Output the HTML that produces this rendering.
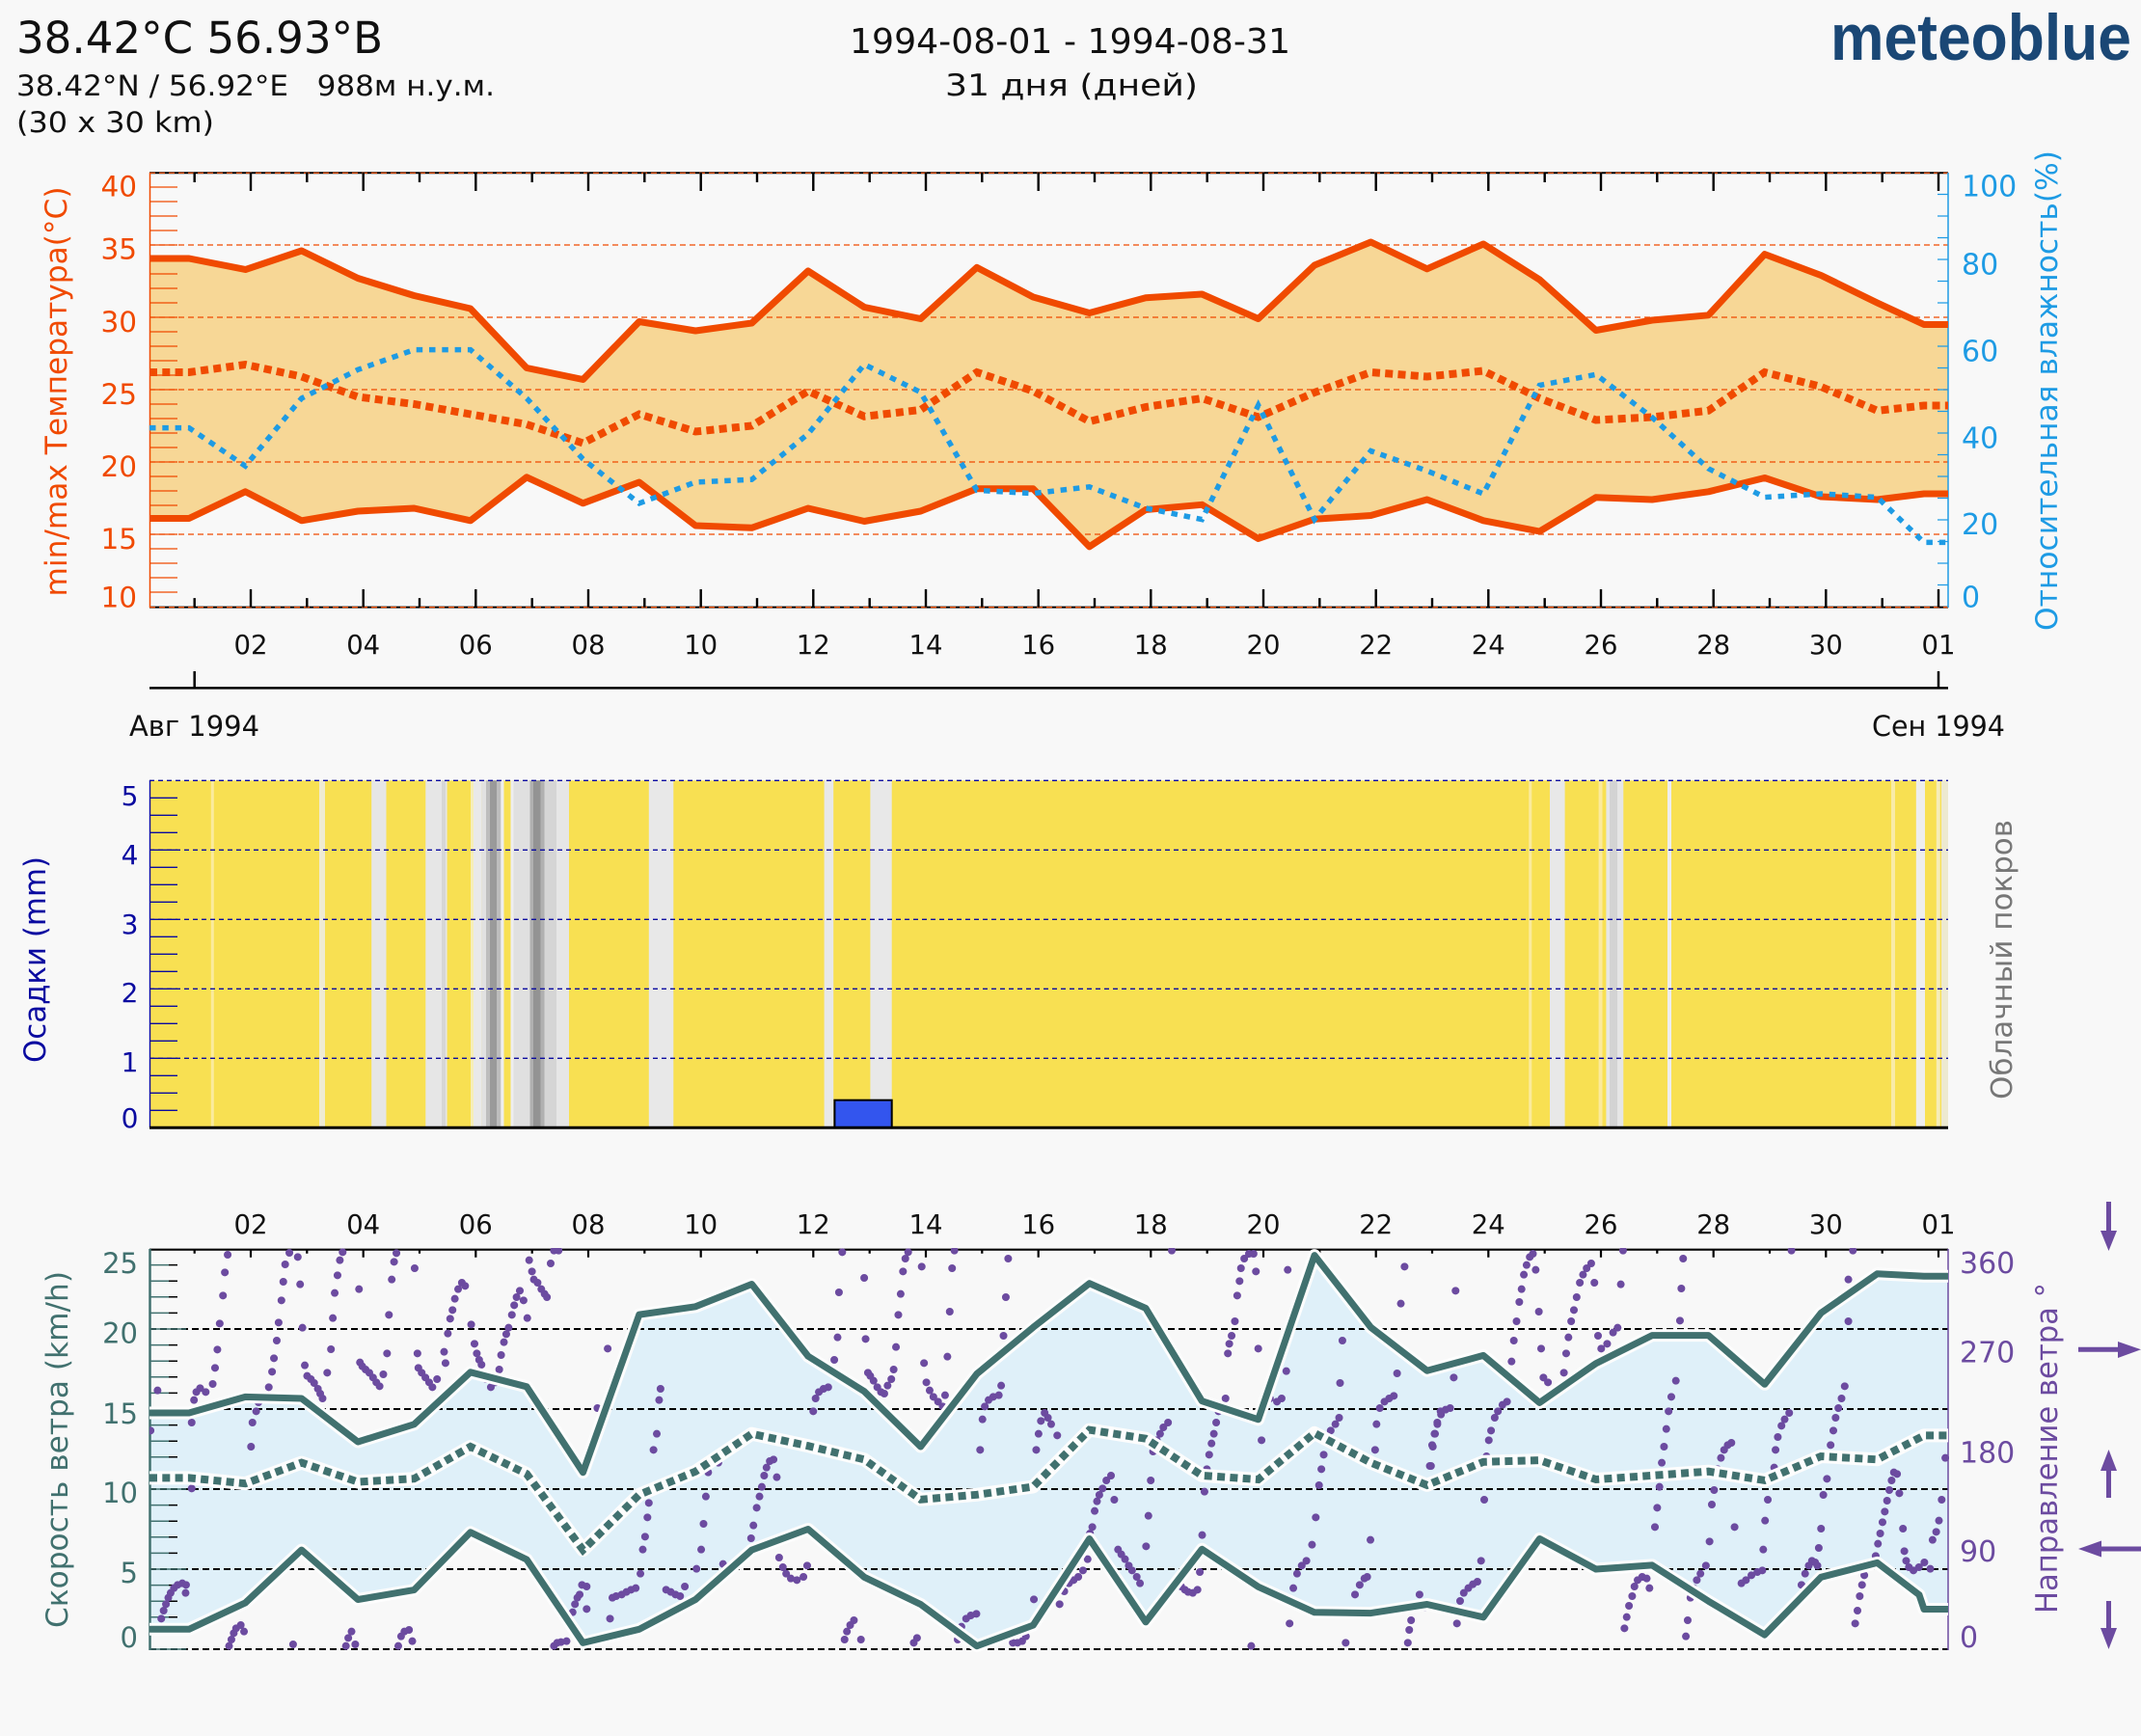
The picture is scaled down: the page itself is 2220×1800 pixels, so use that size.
<!DOCTYPE html>
<html><head><meta charset="utf-8">
<style>
html,body{margin:0;padding:0;background:#f8f8f8}
svg{display:block}
text{font-family:"DejaVu Sans","Liberation Sans",sans-serif}
</style></head>
<body>
<svg width="2220" height="1800" viewBox="0 0 2220 1800" xmlns="http://www.w3.org/2000/svg">
<rect x="0" y="0" width="2220" height="1800" fill="#f8f8f8"/>

<!-- HEADER -->
<text x="17" y="55" font-size="45" textLength="380" lengthAdjust="spacingAndGlyphs" fill="#111">38.42°C 56.93°B</text>
<text x="17" y="99" font-size="29" textLength="496" lengthAdjust="spacingAndGlyphs" fill="#111" style="white-space:pre">38.42°N / 56.92°E   988м н.у.м.</text>
<text x="17" y="137" font-size="29" textLength="205" lengthAdjust="spacingAndGlyphs" fill="#111">(30 x 30 km)</text>
<text x="881" y="55" font-size="36" textLength="457" lengthAdjust="spacingAndGlyphs" fill="#111">1994-08-01 - 1994-08-31</text>
<text x="980" y="99" font-size="31" textLength="262" lengthAdjust="spacingAndGlyphs" fill="#111">31 дня (дней)</text>
<text x="1898" y="62" font-size="68" font-weight="bold" style="font-family:'Liberation Sans',sans-serif" textLength="312" lengthAdjust="spacingAndGlyphs" fill="#1a4775">meteoblue</text>

<!-- ================= TOP CHART ================= -->
<polygon fill="#f7d796" points="155,268 196,268 254.4,279.5 312.7,260 371.1,288.5 429.4,306.5 487.8,320 546.1,381.5 604.5,393.5 662.8,333.5 721.2,343 779.5,335 837.9,281 896.2,318.5 954.6,330.5 1012.9,277.3 1071.3,308 1129.6,324.5 1188,308.8 1246.3,305 1304.7,330.5 1363,275 1421.4,251 1479.7,278.8 1538.1,253 1596.4,290 1654.8,342.5 1713.1,332 1771.5,326.8 1829.8,263.6 1888.2,285.5 1946.5,314 1995,336.5 2020,336.5 2020,512 1995,512 1946.5,518 1888.2,515 1829.8,495.5 1771.5,509.8 1713.1,518 1654.8,515.8 1596.4,551 1538.1,539.8 1479.7,518 1421.4,534.5 1363,538.3 1304.7,558.5 1246.3,523.3 1188,528.5 1129.6,566.8 1071.3,506.8 1012.9,506.8 954.6,530 896.2,540.5 837.9,527 779.5,547.3 721.2,545 662.8,500 604.5,521.8 546.1,494.8 487.8,539.8 429.4,527 371.1,530 312.7,539.8 254.4,509.8 196,537.5 155,537.5"/>
<!-- grid -->
<path d="M155 254H2020M155 329H2020M155 404H2020M155 479H2020M155 554H2020" stroke="#f04a00" stroke-width="1.3" stroke-dasharray="6 4" fill="none"/>
<!-- borders -->
<path d="M155 179.3H2020M155 629.6H2020" stroke="#000" stroke-width="2" fill="none"/>
<path d="M155 179.3H2020M155 629.6H2020" stroke="#f04a00" stroke-width="1.2" stroke-dasharray="6 4" fill="none"/>
<path d="M155.5 179V630" stroke="#f04a00" stroke-width="1.5"/>
<path d="M2020 179V630" stroke="#1e9be4" stroke-width="1.5"/>
<!-- left orange ticks -->
<path stroke="#f04a00" stroke-width="1.2" d="M155 194h29M155 209h29M155 224h29M155 239h29M155 254h29M155 269h29M155 284h29M155 299h29M155 314h29M155 329h29M155 344h29M155 359h29M155 374h29M155 389h29M155 404h29M155 419h29M155 434h29M155 449h29M155 464h29M155 479h29M155 494h29M155 509h29M155 524h29M155 539h29M155 554h29M155 569h29M155 584h29M155 599h29M155 614h29"/>
<!-- right blue ticks -->
<path stroke="#1e9be4" stroke-width="1.2" d="M2009 606.5h11M2009 584h11M2009 561.5h11M2009 539h11M2009 516.5h11M2009 494h11M2009 471.5h11M2009 449h11M2009 426.5h11M2009 404h11M2009 381.5h11M2009 359h11M2009 336.5h11M2009 314h11M2009 291.5h11M2009 269h11M2009 246.5h11M2009 224h11M2009 201.5h11"/>
<!-- top/bottom time ticks -->
<path stroke="#000" stroke-width="2.4" d="M260 179v19M376.7 179v19M493.3 179v19M610 179v19M726.7 179v19M843.3 179v19M960 179v19M1076.7 179v19M1193.3 179v19M1310 179v19M1426.7 179v19M1543.3 179v19M1660 179v19M1776.7 179v19M1893.3 179v19M2010 179v19
M201.7 179v10M318.3 179v10M435 179v10M551.7 179v10M668.3 179v10M785 179v10M901.7 179v10M1018.3 179v10M1135 179v10M1251.7 179v10M1368.3 179v10M1485 179v10M1601.7 179v10M1718.3 179v10M1835 179v10M1951.7 179v10
M260 629.6v-18.6M376.7 629.6v-18.6M493.3 629.6v-18.6M610 629.6v-18.6M726.7 629.6v-18.6M843.3 629.6v-18.6M960 629.6v-18.6M1076.7 629.6v-18.6M1193.3 629.6v-18.6M1310 629.6v-18.6M1426.7 629.6v-18.6M1543.3 629.6v-18.6M1660 629.6v-18.6M1776.7 629.6v-18.6M1893.3 629.6v-18.6M2010 629.6v-18.6
M201.7 629.6v-9.5M318.3 629.6v-9.5M435 629.6v-9.5M551.7 629.6v-9.5M668.3 629.6v-9.5M785 629.6v-9.5M901.7 629.6v-9.5M1018.3 629.6v-9.5M1135 629.6v-9.5M1251.7 629.6v-9.5M1368.3 629.6v-9.5M1485 629.6v-9.5M1601.7 629.6v-9.5M1718.3 629.6v-9.5M1835 629.6v-9.5M1951.7 629.6v-9.5"/>
<!-- mean temp dotted -->
<polyline fill="none" stroke="#f04a00" stroke-width="8" stroke-dasharray="8 5.3" points="155,386 196,386 254.4,378 312.7,390.5 371.1,411.5 429.4,419 487.8,429.5 546.1,440 604.5,459.5 662.8,429.5 721.2,447.5 779.5,441.5 837.9,405.5 896.2,431.8 954.6,425 1012.9,386 1071.3,405.5 1129.6,437 1188,422 1246.3,413 1304.7,432.5 1363,407 1421.4,386 1479.7,390.5 1538.1,384.5 1596.4,413 1654.8,435.5 1713.1,432.5 1771.5,425.8 1829.8,386 1888.2,401 1946.5,425.8 1995,420.5 2020,420.5"/>
<!-- max/min temp -->
<polyline fill="none" stroke="#f04a00" stroke-width="7" stroke-linejoin="round" points="155,268 196,268 254.4,279.5 312.7,260 371.1,288.5 429.4,306.5 487.8,320 546.1,381.5 604.5,393.5 662.8,333.5 721.2,343 779.5,335 837.9,281 896.2,318.5 954.6,330.5 1012.9,277.3 1071.3,308 1129.6,324.5 1188,308.8 1246.3,305 1304.7,330.5 1363,275 1421.4,251 1479.7,278.8 1538.1,253 1596.4,290 1654.8,342.5 1713.1,332 1771.5,326.8 1829.8,263.6 1888.2,285.5 1946.5,314 1995,336.5 2020,336.5"/>
<polyline fill="none" stroke="#f04a00" stroke-width="7" stroke-linejoin="round" points="155,537.5 196,537.5 254.4,509.8 312.7,539.8 371.1,530 429.4,527 487.8,539.8 546.1,494.8 604.5,521.8 662.8,500 721.2,545 779.5,547.3 837.9,527 896.2,540.5 954.6,530 1012.9,506.8 1071.3,506.8 1129.6,566.8 1188,528.5 1246.3,523.3 1304.7,558.5 1363,538.3 1421.4,534.5 1479.7,518 1538.1,539.8 1596.4,551 1654.8,515.8 1713.1,518 1771.5,509.8 1829.8,495.5 1888.2,515 1946.5,518 1995,512 2020,512"/>
<!-- humidity -->
<polyline fill="none" stroke="#1e9be4" stroke-width="5.5" stroke-dasharray="6.5 6.8" points="155,443.6 196,443.6 254.4,483.2 312.7,413 371.1,383.3 429.4,362.6 487.8,362.6 546.1,413 604.5,476 662.8,521.9 721.2,499.9 779.5,497.2 837.9,449.9 896.2,377.9 954.6,406.7 1012.9,508.4 1071.3,511.6 1129.6,504.8 1188,526.9 1246.3,538.6 1304.7,420.2 1363,538.6 1421.4,467.5 1479.7,488.2 1538.1,512 1596.4,399.5 1654.8,388.3 1713.1,432.8 1771.5,485.9 1829.8,515.6 1888.2,512 1946.5,515.6 1995,562.4 2020,562.4"/>

<!-- top chart labels -->
<g font-size="29.5" fill="#f04a00" text-anchor="end">
<text x="142" y="203.5">40</text><text x="142" y="268.7">35</text><text x="142" y="343.8">30</text><text x="142" y="419">25</text><text x="142" y="494">20</text><text x="142" y="569">15</text><text x="142" y="629.6">10</text>
</g>
<g font-size="30" fill="#1e9be4">
<text x="2034" y="203.5">100</text><text x="2034" y="284.5">80</text><text x="2034" y="374.6">60</text><text x="2034" y="464.3">40</text><text x="2034" y="554">20</text><text x="2034" y="629.6">0</text>
</g>
<text transform="translate(69,618.5) rotate(-90)" font-size="31" fill="#f04a00" textLength="425" lengthAdjust="spacingAndGlyphs">min/max Температура(°C)</text>
<text transform="translate(2133,654) rotate(-90)" font-size="31" fill="#1e9be4" textLength="498" lengthAdjust="spacingAndGlyphs">Относительная влажность(%)</text>
<g font-size="27.5" fill="#111" text-anchor="middle">
<text x="260" y="677.8">02</text><text x="376.7" y="677.8">04</text><text x="493.3" y="677.8">06</text><text x="610" y="677.8">08</text><text x="726.7" y="677.8">10</text><text x="843.3" y="677.8">12</text><text x="960" y="677.8">14</text><text x="1076.7" y="677.8">16</text><text x="1193.3" y="677.8">18</text><text x="1310" y="677.8">20</text><text x="1426.7" y="677.8">22</text><text x="1543.3" y="677.8">24</text><text x="1660" y="677.8">26</text><text x="1776.7" y="677.8">28</text><text x="1893.3" y="677.8">30</text><text x="2010" y="677.8">01</text>
</g>
<path d="M155 713.4H2020M201.7 696v17.4M2010 696v17.4" stroke="#000" stroke-width="2.5" fill="none"/>
<text x="134" y="762.8" font-size="29.5" fill="#111" textLength="135" lengthAdjust="spacingAndGlyphs">Авг 1994</text>
<text x="1941" y="762.8" font-size="29.5" fill="#111" textLength="138" lengthAdjust="spacingAndGlyphs">Сен 1994</text>

<!-- ================= MIDDLE CHART ================= -->
<rect x="155" y="809.3" width="1865" height="360" fill="#f8e052"/>
<g>
<rect x="218.8" y="809.3" width="3" height="360" fill="#fbeb9e"/>
<rect x="331" y="809.3" width="6" height="360" fill="#efebd2"/>
<rect x="385.2" y="809.3" width="15.3" height="360" fill="#e6e6e6"/>
<rect x="441.3" y="809.3" width="22.3" height="360" fill="#e6e6e6"/>
<rect x="458" y="809.3" width="4" height="360" fill="#d6d6d6"/>
<rect x="488" y="809.3" width="3" height="360" fill="#f6eeb8"/>
<rect x="491" y="809.3" width="8.4" height="360" fill="#e9e9e9"/>
<rect x="499.4" y="809.3" width="20.6" height="360" fill="#e1e1e1"/>
<rect x="504" y="809.3" width="15" height="360" fill="#bdbdbd"/>
<rect x="508" y="809.3" width="7" height="360" fill="#9a9a9a"/>
<rect x="520" y="809.3" width="2.5" height="360" fill="#eeeeee"/>
<rect x="529.5" y="809.3" width="3" height="360" fill="#eeeeee"/>
<rect x="532.5" y="809.3" width="57.5" height="360" fill="#e0e0e0"/>
<rect x="549.5" y="809.3" width="15" height="360" fill="#b0b0b0"/>
<rect x="553" y="809.3" width="7.5" height="360" fill="#939393"/>
<rect x="564.5" y="809.3" width="12.5" height="360" fill="#d5d5d5"/>
<rect x="577" y="809.3" width="13" height="360" fill="#e6e6e6"/>
<rect x="672.8" y="809.3" width="25.5" height="360" fill="#e8e8e8"/>
<rect x="854.6" y="809.3" width="9.6" height="360" fill="#e8e8e8"/>
<rect x="902.4" y="809.3" width="22.3" height="360" fill="#e8e8e8"/>
<rect x="1585.2" y="809.3" width="3.1" height="360" fill="#fbea9c"/>
<rect x="1607" y="809.3" width="15.6" height="360" fill="#e8e8e8"/>
<rect x="1657.6" y="809.3" width="3.9" height="360" fill="#fbea9c"/>
<rect x="1665.4" y="809.3" width="17.9" height="360" fill="#e6e6e6"/>
<rect x="1669" y="809.3" width="8" height="360" fill="#d3d3d3"/>
<rect x="1729" y="809.3" width="4" height="360" fill="#eeeeee"/>
<rect x="1961" y="809.3" width="4" height="360" fill="#f9eba8"/>
<rect x="1986.8" y="809.3" width="9.2" height="360" fill="#eeeeee"/>
<rect x="2007.8" y="809.3" width="3.9" height="360" fill="#f6edb8"/>
<rect x="2013" y="809.3" width="7" height="360" fill="#ede9d0"/>
</g>
<path d="M155 809.3H2020M155 881.3H2020M155 953.3H2020M155 1025.3H2020M155 1097.3H2020" stroke="#0a0aa0" stroke-width="1.4" stroke-dasharray="5 4" fill="none"/>
<path d="M155.5 809V1169" stroke="#0a0aa0" stroke-width="1.4"/>
<path stroke="#0a0aa0" stroke-width="1.3" d="M155 1151.3h29M155 1133.3h29M155 1115.3h29M155 1097.3h29M155 1079.3h29M155 1061.3h29M155 1043.3h29M155 1025.3h29M155 1007.3h29M155 989.3h29M155 971.3h29M155 953.3h29M155 935.3h29M155 917.3h29M155 899.3h29M155 881.3h29M155 863.3h29M155 845.3h29M155 827.3h29"/>
<rect x="865.4" y="1140.7" width="59.3" height="28.6" fill="#3355ee" stroke="#000" stroke-width="2"/>
<path d="M155 1169.3H2020" stroke="#000" stroke-width="3"/>
<g font-size="28" fill="#0a0aa0" text-anchor="end">
<text x="143.5" y="835">5</text><text x="143.5" y="896">4</text><text x="143.5" y="968">3</text><text x="143.5" y="1039">2</text><text x="143.5" y="1111">1</text><text x="143.5" y="1169">0</text>
</g>
<text transform="translate(47,1102) rotate(-90)" font-size="31" fill="#0a0aa0" textLength="214" lengthAdjust="spacingAndGlyphs">Осадки (mm)</text>
<text transform="translate(2086,1140) rotate(-90)" font-size="30" fill="#777" textLength="290" lengthAdjust="spacingAndGlyphs">Облачный покров</text>

<!-- ================= BOTTOM CHART ================= -->
<defs><clipPath id="cb"><rect x="155" y="1294" width="1866" height="418"/></clipPath></defs>
<polygon fill="#dff0f9" points="155,1465 196,1465 254.4,1448.4 312.7,1450 371.1,1495 429.4,1476.8 487.8,1422.8 546.1,1437.8 604.5,1526.7 662.8,1363.1 721.2,1354.8 779.5,1331.5 837.9,1406.2 896.2,1442.7 954.6,1500 1012.9,1424.5 1071.3,1376.3 1129.6,1330.7 1188,1356.4 1246.3,1452.7 1304.7,1471.8 1363,1301.6 1421.4,1376.3 1479.7,1421.2 1538.1,1405.4 1596.4,1454.4 1654.8,1413.7 1713.1,1384.6 1771.5,1384.6 1829.8,1435.3 1888.2,1361.4 1946.5,1320.7 1995,1323.2 2020,1323.2 2020,1668.5 1995,1668.5 1990,1653.6 1946.5,1620.4 1888.2,1635.3 1829.8,1695.1 1771.5,1660.2 1713.1,1622.9 1654.8,1627 1596.4,1595.5 1538.1,1676.8 1479.7,1663.5 1421.4,1672.6 1363,1671.8 1304.7,1645.3 1246.3,1606.3 1188,1681.8 1129.6,1595.5 1071.3,1685.1 1012.9,1706.7 954.6,1663.5 896.2,1635.3 837.9,1585.5 779.5,1607.1 721.2,1658.5 662.8,1689.3 604.5,1703.4 546.1,1617 487.8,1588.8 429.4,1648.6 371.1,1658.5 312.7,1607.1 254.4,1661.9 196,1689.3 155,1689.3"/>
<path d="M155 1378H2020M155 1461H2020M155 1544H2020M155 1627H2020M155 1710H2020" stroke="#000" stroke-width="2" stroke-dasharray="7 4" fill="none"/>
<path d="M155 1295.7H2020" stroke="#000" stroke-width="2.2"/>
<path stroke="#000" stroke-width="2.2" d="M260 1295.7v8M376.7 1295.7v8M493.3 1295.7v8M610 1295.7v8M726.7 1295.7v8M843.3 1295.7v8M960 1295.7v8M1076.7 1295.7v8M1193.3 1295.7v8M1310 1295.7v8M1426.7 1295.7v8M1543.3 1295.7v8M1660 1295.7v8M1776.7 1295.7v8M1893.3 1295.7v8M2010 1295.7v8
M201.7 1295.7v4M318.3 1295.7v4M435 1295.7v4M551.7 1295.7v4M668.3 1295.7v4M785 1295.7v4M901.7 1295.7v4M1018.3 1295.7v4M1135 1295.7v4M1251.7 1295.7v4M1368.3 1295.7v4M1485 1295.7v4M1601.7 1295.7v4M1718.3 1295.7v4M1835 1295.7v4M1951.7 1295.7v4"/>
<path d="M155.5 1295V1711" stroke="#41716f" stroke-width="2.5"/>
<path d="M2020 1295V1711" stroke="#6c4ba0" stroke-width="1.5"/>
<!-- left ticks -->
<path stroke="#000" stroke-width="1.5" d="M175 1693.4h9M175 1676.8h9M175 1660.2h9M175 1643.6h9M175 1610.4h9M175 1593.8h9M175 1577.2h9M175 1560.6h9M175 1527.4h9M175 1510.8h9M175 1494.2h9M175 1477.6h9M175 1444.4h9M175 1427.8h9M175 1411.2h9M175 1394.6h9M175 1361.4h9M175 1344.8h9M175 1328.2h9M175 1311.6h9"/>
<path stroke="#41716f" stroke-width="1.5" d="M155 1693.4h20M155 1676.8h20M155 1660.2h20M155 1643.6h20M155 1610.4h20M155 1593.8h20M155 1577.2h20M155 1560.6h20M155 1527.4h20M155 1510.8h20M155 1494.2h20M155 1477.6h20M155 1444.4h20M155 1427.8h20M155 1411.2h20M155 1394.6h20M155 1361.4h20M155 1344.8h20M155 1328.2h20M155 1311.6h20M155 1627h38M155 1544h38M155 1461h38M155 1378h38M155 1710h38"/>

<!-- wind direction dots -->
<g clip-path="url(#cb)" fill="none" stroke="#6c4ba0" stroke-width="8" stroke-linecap="round">
<path transform="translate(0,1230) scale(0.48469,0.33333)" vector-effect="non-scaling-stroke" d="M322 760h.1M337 635h.1M345 1345h.1M350 1320h.1M355 1300h.1M360 1280h.1M365 1265h.1M372 1250h.1M380 1240h.1M390 1235h.1M398 1240h.1M397 1265h.1M410 940h.1M410 735h.1M415 665h.1M420 640h.1M428 628h.1M440 640h.1M455 615h.1M460 565h.1M465 508h.1M470 427h.1M477 340h.1M481 268h.1M487 213h.1M490 1430h.1M495 1410h.1M500 1390h.1M505 1375h.1M515 1365h.1M522 1385h.1M537 810h.1M540 735h.1M548 700h.1M553 672h.1M575 625h.1M582 577h.1M586 535h.1M592 480h.1M596 424h.1M602 355h.1M606 297h.1M610 243h.1M619 207h.1M627 1425h.1M637 220h.1M642 305h.1M647 440h.1M652 557h.1M657 590h.1M665 600h.1M672 612h.1M680 630h.1M685 645h.1M690 660h.1M700 580h.1M708 507h.1M712 410h.1M716 332h.1M722 277h.1M727 230h.1M733 205h.1M740 1430h.1M745 1405h.1M752 1385h.1M760 1425h.1M768 320h.1M770 548h.1M775 560h.1M782 570h.1M790 580h.1M798 595h.1M805 610h.1M812 622h.1M820 585h.1M828 520h.1M832 400h.1M838 290h.1M843 235h.1M848 208h.1M852 1430h.1M858 1400h.1M865 1385h.1M875 1380h.1M882 1415h.1M887 255h.1M893 520h.1M895 565h.1M902 580h.1M910 595h.1M918 610h.1M925 625h.1M935 600h.1M950 515h.1M953 550h.1M958 458h.1M963 412h.1M968 385h.1M973 350h.1M980 320h.1M988 300h.1M995 310h.1M1008 430h.1M1015 490h.1M1020 520h.1M1025 540h.1M1030 555h.1M1040 600h.1M1050 625h.1M1060 610h.1M1068 570h.1M1072 525h.1M1078 485h.1M1083 460h.1M1088 440h.1M1095 400h.1M1100 370h.1M1105 345h.1M1112 325h.1M1120 355h.1M1128 410h.1M1132 230h.1M1138 265h.1M1142 290h.1M1150 300h.1M1158 320h.1M1165 335h.1M1170 345h.1M1178 240h.1M1185 200h.1M1195 200h.1M1185 1430h.1M1192 1420h.1M1200 1418h.1M1212 1415h.1M1225 1325h.1M1230 1300h.1M1235 1280h.1M1240 1270h.1M1245 1240h.1M1255 1245h.1M1255 1315h.1M1278 690h.1M1300 505h.1M1305 1345h.1M1310 1280h.1M1318 1275h.1M1330 1270h.1M1340 1262h.1M1350 1255h.1M1360 1250h.1M1370 1205h.1M1375 1130h.1M1380 1090h.1M1385 1030h.1M1388 985h.1M1398 820h.1M1405 770h.1M1410 665h.1M1413 630h.1M1425 1255h.1M1435 1262h.1M1445 1270h.1M1455 1275h.1M1465 1245h.1M1490 1190h.1M1500 1130h.1M1505 1050h.1M1510 965h.1M1515 890h.1M1530 855h.1M1548 830h.1"/>
<path transform="translate(740,1230) scale(0.48469,0.33333)" vector-effect="non-scaling-stroke" d="M10 860h.1M20 1175h.1M80 1095h.1M85 1055h.1M92 1000h.1M98 965h.1M103 935h.1M108 900h.1M113 875h.1M120 855h.1M128 850h.1M135 905h.1M140 1155h.1M148 1185h.1M155 1205h.1M165 1220h.1M178 1225h.1M192 1215h.1M200 1180h.1M213 700h.1M218 660h.1M225 640h.1M235 630h.1M245 625h.1M258 540h.1M265 470h.1M268 330h.1M275 205h.1M280 1410h.1M285 1385h.1M292 1365h.1M300 1350h.1M315 1410h.1M322 285h.1M325 475h.1M330 580h.1M335 590h.1M342 605h.1M350 625h.1M358 640h.1M365 645h.1M372 620h.1M380 600h.1M385 570h.1M390 500h.1M395 400h.1M400 335h.1M405 265h.1M410 225h.1M416 205h.1M428 1420h.1M435 1405h.1M445 250h.1M450 550h.1M455 610h.1M462 635h.1M470 655h.1M480 670h.1M490 685h.1M495 650h.1M500 530h.1M505 390h.1M510 255h.1M515 200h.1M522 1410h.1M530 1370h.1M540 1345h.1M550 1335h.1M562 1330h.1M570 820h.1M575 725h.1M580 685h.1M588 665h.1M598 655h.1M610 650h.1M615 620h.1M620 465h.1M625 345h.1M630 225h.1M640 1420h.1M650 1420h.1M660 1415h.1M668 1400h.1M685 1285h.1M690 820h.1M695 770h.1M700 730h.1M708 705h.1M715 720h.1M722 740h.1M735 775h.1M740 1300h.1M750 1260h.1M760 1235h.1M770 1225h.1M780 1215h.1M790 1195h.1M800 1160h.1M805 1080h.1M810 1060h.1M815 1010h.1M820 980h.1M825 960h.1M832 940h.1M840 915h.1M850 900h.1M857 975h.1M865 1130h.1M872 1145h.1M880 1160h.1M888 1180h.1M895 1195h.1M905 1215h.1M912 1235h.1M925 1120h.1M930 1025h.1M935 915h.1M940 825h.1M948 790h.1M955 770h.1M962 750h.1M972 735h.1M980 200h.1M1000 1245h.1M1008 1255h.1M1015 1262h.1M1025 1265h.1M1035 1255h.1M1040 1200h.1M1045 1085h.1M1050 950h.1M1055 880h.1M1060 835h.1M1065 800h.1M1070 770h.1M1075 735h.1M1080 700h.1M1095 660h.1M1100 520h.1M1103 490h.1M1108 465h.1M1115 420h.1M1120 340h.1M1125 295h.1M1128 255h.1M1135 225h.1M1145 210h.1M1155 210h.1M1160 265h.1M1165 505h.1M1172 790h.1M1150 1430h.1M1190 660h.1M1205 670h.1M1215 660h.1M1225 575h.1M1228 260h.1M1232 1360h.1M1240 1250h.1M1248 1205h.1M1258 1180h.1M1268 1165h.1M1280 1115h.1M1288 1030h.1M1295 930h.1M1300 880h.1M1305 835h.1M1310 785h.1M1320 760h.1M1330 740h.1M1338 720h.1M1340 612h.1M1345 480h.1M1352 1420h.1M1362 1320h.1M1372 1270h.1M1382 1240h.1M1392 1220h.1M1398 1215h.1M1405 1100h.1M1415 820h.1M1418 740h.1M1425 690h.1M1435 670h.1M1445 660h.1M1455 652h.1M1462 582h.1M1470 365h.1M1478 250h.1M1485 1420h.1M1488 1380h.1M1492 1350h.1M1500 1310h.1M1510 1270h.1M1520 1310h.1M1532 870h.1M1537 805h.1M1542 770h.1M1548 735h.1M1555 700h.1"/>
<path transform="translate(1480,1230) scale(0.47194,0.33333)" vector-effect="non-scaling-stroke" d="M8 870h.1M12 810h.1M17 770h.1M22 740h.1M30 710h.1M40 695h.1M50 690h.1M58 595h.1M62 325h.1M65 1360h.1M72 1290h.1M80 1265h.1M90 1250h.1M100 1238h.1M110 1230h.1M118 1165h.1M125 975h.1M130 840h.1M135 790h.1M140 760h.1M148 720h.1M155 700h.1M165 680h.1M175 670h.1M185 545h.1M190 480h.1M196 420h.1M202 360h.1M207 320h.1M212 275h.1M218 245h.1M225 220h.1M232 210h.1M238 260h.1M245 390h.1M250 505h.1M255 595h.1M265 610h.1M300 580h.1M305 520h.1M310 470h.1M316 420h.1M322 385h.1M328 345h.1M335 300h.1M342 275h.1M350 255h.1M360 240h.1M367 300h.1M375 465h.1M382 505h.1M395 490h.1M408 455h.1M418 440h.1M425 305h.1M430 200h.1M433 1375h.1M438 1340h.1M443 1305h.1M450 1275h.1M455 1245h.1M462 1225h.1M472 1215h.1M482 1220h.1M488 1250h.1M500 1060h.1M505 1000h.1M510 935h.1M515 860h.1M520 810h.1M525 755h.1M530 700h.1M536 655h.1M546 605h.1M555 418h.1M558 318h.1M562 225h.1M568 1400h.1M572 1350h.1M578 1280h.1M585 1250h.1M592 1225h.1M600 1205h.1M612 1180h.1M620 1105h.1M625 990h.1M630 945h.1M638 880h.1M645 845h.1M652 820h.1M660 805h.1M668 798h.1M675 1060h.1M690 1235h.1M700 1225h.1M712 1210h.1M725 1200h.1M736 1195h.1M738 1130h.1M742 1040h.1M748 975h.1M755 915h.1M762 875h.1M765 820h.1M770 780h.1M778 745h.1M785 725h.1M795 705h.1M800 200h.1M815 1280h.1M822 1240h.1M830 1205h.1M838 1180h.1M845 1165h.1M852 1170h.1M857 1180h.1M860 1125h.1M865 1065h.1M870 960h.1M878 910h.1M886 805h.1M892 760h.1M897 720h.1M903 690h.1M910 660h.1M917 622h.1M925 290h.1M925 420h.1M935 200h.1M940 1360h.1M945 1320h.1M950 1275h.1M955 1240h.1M960 1210h.1M985 1150h.1M990 1112h.1M995 1080h.1M1000 1045h.1M1005 1012h.1M1010 978h.1M1015 945h.1M1020 915h.1M1025 890h.1M1032 895h.1M1037 955h.1M1045 1065h.1M1048 1135h.1M1052 1165h.1M1058 1185h.1M1068 1195h.1M1080 1185h.1M1092 1170h.1M1105 1190h.1M1110 1100h.1M1118 1075h.1M1124 1040h.1M1130 975h.1M1138 845h.1"/>
</g>

<!-- wind lines -->
<g fill="none" stroke-linejoin="round">
<polyline stroke="#fdfdfd" stroke-width="13" points="155,1465 196,1465 254.4,1448.4 312.7,1450 371.1,1495 429.4,1476.8 487.8,1422.8 546.1,1437.8 604.5,1526.7 662.8,1363.1 721.2,1354.8 779.5,1331.5 837.9,1406.2 896.2,1442.7 954.6,1500 1012.9,1424.5 1071.3,1376.3 1129.6,1330.7 1188,1356.4 1246.3,1452.7 1304.7,1471.8 1363,1301.6 1421.4,1376.3 1479.7,1421.2 1538.1,1405.4 1596.4,1454.4 1654.8,1413.7 1713.1,1384.6 1771.5,1384.6 1829.8,1435.3 1888.2,1361.4 1946.5,1320.7 1995,1323.2 2020,1323.2"/>
<polyline stroke="#fdfdfd" stroke-width="13" points="155,1689.3 196,1689.3 254.4,1661.9 312.7,1607.1 371.1,1658.5 429.4,1648.6 487.8,1588.8 546.1,1617 604.5,1703.4 662.8,1689.3 721.2,1658.5 779.5,1607.1 837.9,1585.5 896.2,1635.3 954.6,1663.5 1012.9,1706.7 1071.3,1685.1 1129.6,1595.5 1188,1681.8 1246.3,1606.3 1304.7,1645.3 1363,1671.8 1421.4,1672.6 1479.7,1663.5 1538.1,1676.8 1596.4,1595.5 1654.8,1627 1713.1,1622.9 1771.5,1660.2 1829.8,1695.1 1888.2,1635.3 1946.5,1620.4 1990,1653.6 1995,1668.5 2020,1668.5"/>
<polyline stroke="#fdfdfd" stroke-width="14" points="155,1532.4 196,1532.4 254.4,1538.2 312.7,1516.6 371.1,1536.5 429.4,1533.2 487.8,1500 546.1,1528.2 604.5,1607.1 662.8,1549.8 721.2,1525.7 779.5,1486.7 837.9,1499.2 896.2,1513.3 954.6,1554.8 1012.9,1549.8 1071.3,1541.5 1129.6,1482.6 1188,1491.7 1246.3,1529.9 1304.7,1534 1363,1485.9 1421.4,1516.6 1479.7,1539.9 1538.1,1515.8 1596.4,1514.1 1654.8,1534 1713.1,1529.9 1771.5,1525.7 1829.8,1534.9 1888.2,1510 1946.5,1513.3 1995,1488.4 2020,1488.4"/>
<polyline stroke="#41716f" stroke-width="7" points="155,1465 196,1465 254.4,1448.4 312.7,1450 371.1,1495 429.4,1476.8 487.8,1422.8 546.1,1437.8 604.5,1526.7 662.8,1363.1 721.2,1354.8 779.5,1331.5 837.9,1406.2 896.2,1442.7 954.6,1500 1012.9,1424.5 1071.3,1376.3 1129.6,1330.7 1188,1356.4 1246.3,1452.7 1304.7,1471.8 1363,1301.6 1421.4,1376.3 1479.7,1421.2 1538.1,1405.4 1596.4,1454.4 1654.8,1413.7 1713.1,1384.6 1771.5,1384.6 1829.8,1435.3 1888.2,1361.4 1946.5,1320.7 1995,1323.2 2020,1323.2"/>
<polyline stroke="#41716f" stroke-width="7" points="155,1689.3 196,1689.3 254.4,1661.9 312.7,1607.1 371.1,1658.5 429.4,1648.6 487.8,1588.8 546.1,1617 604.5,1703.4 662.8,1689.3 721.2,1658.5 779.5,1607.1 837.9,1585.5 896.2,1635.3 954.6,1663.5 1012.9,1706.7 1071.3,1685.1 1129.6,1595.5 1188,1681.8 1246.3,1606.3 1304.7,1645.3 1363,1671.8 1421.4,1672.6 1479.7,1663.5 1538.1,1676.8 1596.4,1595.5 1654.8,1627 1713.1,1622.9 1771.5,1660.2 1829.8,1695.1 1888.2,1635.3 1946.5,1620.4 1990,1653.6 1995,1668.5 2020,1668.5"/>
<polyline stroke="#41716f" stroke-width="8" stroke-dasharray="8 5.3" stroke-linejoin="miter" points="155,1532.4 196,1532.4 254.4,1538.2 312.7,1516.6 371.1,1536.5 429.4,1533.2 487.8,1500 546.1,1528.2 604.5,1607.1 662.8,1549.8 721.2,1525.7 779.5,1486.7 837.9,1499.2 896.2,1513.3 954.6,1554.8 1012.9,1549.8 1071.3,1541.5 1129.6,1482.6 1188,1491.7 1246.3,1529.9 1304.7,1534 1363,1485.9 1421.4,1516.6 1479.7,1539.9 1538.1,1515.8 1596.4,1514.1 1654.8,1534 1713.1,1529.9 1771.5,1525.7 1829.8,1534.9 1888.2,1510 1946.5,1513.3 1995,1488.4 2020,1488.4"/>
</g>

<!-- bottom chart labels -->
<g font-size="27.5" fill="#111" text-anchor="middle">
<text x="260" y="1279">02</text><text x="376.7" y="1279">04</text><text x="493.3" y="1279">06</text><text x="610" y="1279">08</text><text x="726.7" y="1279">10</text><text x="843.3" y="1279">12</text><text x="960" y="1279">14</text><text x="1076.7" y="1279">16</text><text x="1193.3" y="1279">18</text><text x="1310" y="1279">20</text><text x="1426.7" y="1279">22</text><text x="1543.3" y="1279">24</text><text x="1660" y="1279">26</text><text x="1776.7" y="1279">28</text><text x="1893.3" y="1279">30</text><text x="2010" y="1279">01</text>
</g>
<g font-size="29" fill="#41716f" text-anchor="end">
<text x="143" y="1320">25</text><text x="143" y="1392.5">20</text><text x="143" y="1476">15</text><text x="143" y="1558">10</text><text x="143" y="1641">5</text><text x="143" y="1708">0</text>
</g>
<g font-size="30" fill="#6c4ba0">
<text x="2032" y="1320">360</text><text x="2032" y="1412.5">270</text><text x="2032" y="1516.5">180</text><text x="2032" y="1619">90</text><text x="2032" y="1708">0</text>
</g>
<text transform="translate(70,1688) rotate(-90)" font-size="31" fill="#41716f" textLength="370" lengthAdjust="spacingAndGlyphs">Скорость ветра (km/h)</text>
<text transform="translate(2133,1673) rotate(-90)" font-size="31" fill="#6c4ba0" textLength="343" lengthAdjust="spacingAndGlyphs">Направление ветра °</text>

<!-- arrows -->
<g fill="#6c4ba0" stroke="#6c4ba0">
<path d="M2186.5 1246V1280" stroke-width="5" fill="none"/>
<polygon points="2178,1276 2195,1276 2186.5,1297" stroke="none"/>
<path d="M2155 1399.3H2200" stroke-width="5" fill="none"/>
<polygon points="2196,1391 2196,1408 2220,1399.3" stroke="none"/>
<path d="M2186.5 1520V1553" stroke-width="5" fill="none"/>
<polygon points="2178,1525 2195,1525 2186.5,1503" stroke="none"/>
<path d="M2175 1606H2220" stroke-width="5" fill="none"/>
<polygon points="2179,1597.5 2179,1614.5 2155,1606" stroke="none"/>
<path d="M2186.5 1660V1692" stroke-width="5" fill="none"/>
<polygon points="2178,1688 2195,1688 2186.5,1710" stroke="none"/>
</g>
</svg>
</body></html>
